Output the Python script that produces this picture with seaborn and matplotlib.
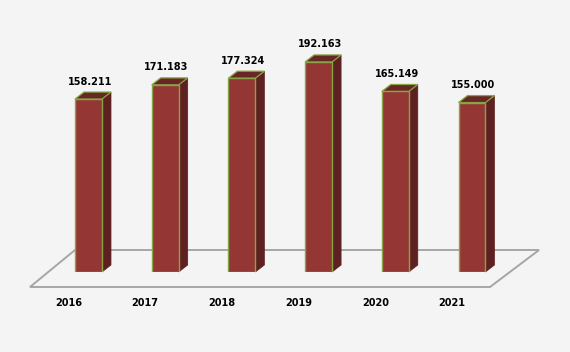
import numpy as np
import pandas as pd
import matplotlib
matplotlib.use("Agg")
import matplotlib.pyplot as plt
from matplotlib.patches import Polygon
from matplotlib.transforms import ScaledTranslation
import seaborn as sns

# Data
years = ["2016", "2017", "2018", "2019", "2020", "2021"]
values = [158.211, 171.183, 177.324, 192.163, 165.149, 155.000]
value_labels = ["158.211", "171.183", "177.324", "192.163", "165.149", "155.000"]

BG = "#f4f4f4"
FRONT = "#943634"
SIDE = "#5e2020"
TOP = "#682725"
EDGE = "#86a544"
FLOOR = "#a6a6a6"

sns.set_theme(style="white")
plt.rcParams['font.family'] = ['DejaVu Sans']

df = pd.DataFrame({"year": years, "value": values})

fig = plt.figure(figsize=(5.7, 3.52), dpi=100, facecolor=BG)
# axes placed so that one category = 76.7 px and 1 unit = 1.093 px
ax = fig.add_axes([50.15 / 570, 80 / 352, 460.2 / 570, 251.4 / 352])
ax.set_facecolor(BG)

sns.barplot(data=df, x="year", y="value", color=FRONT, width=0.352,
            saturation=1, edgecolor=EDGE, linewidth=1.0, ax=ax, zorder=4)
ax.set_xlim(-0.5, 5.5)
ax.set_ylim(0, 230)

# pixel -> data conversions
px_x = 6 / 460.2
px_y = 230 / 251.4
dx, dy = 9 * px_x, 7 * px_y

# floor parallelogram
floor = Polygon([(-0.763, -15 * px_y), (5.235, -15 * px_y),
                 (5.874, 22 * px_y), (-0.176, 22 * px_y)],
                closed=True, facecolor=BG, edgecolor=FLOOR, linewidth=1.4,
                clip_on=False, zorder=1)

# 3D faces for each bar
for p in list(ax.patches):
    x0 = p.get_x()
    w = p.get_width()
    h = p.get_height()
    x1 = x0 + w
    side = Polygon([(x1, 0), (x1 + dx, dy), (x1 + dx, h + dy), (x1, h)],
                   closed=True, facecolor=SIDE, edgecolor=SIDE, linewidth=0.5,
                   clip_on=False, zorder=3)
    top = Polygon([(x0, h), (x0 + dx, h + dy), (x1 + dx, h + dy), (x1, h)],
                  closed=True, facecolor=TOP, edgecolor=EDGE, linewidth=0.9,
                  clip_on=False, zorder=3)
    ax.add_patch(side)
    ax.add_patch(top)
ax.add_patch(floor)

# value labels
for i, (v, lab) in enumerate(zip(values, value_labels)):
    ax.annotate(lab, (i, v), xytext=(1, 9), textcoords="offset points",
                ha="center", va="bottom", fontsize=7, fontweight="bold",
                color="black", zorder=5)

ax.set_xlabel("")
ax.set_ylabel("")
ax.set_yticks([])
ax.tick_params(axis="x", length=0, pad=19, labelsize=7)
shift = ScaledTranslation(-0.2, 0, fig.dpi_scale_trans)
for lab in ax.get_xticklabels():
    lab.set_fontweight("bold")
    lab.set_color("black")
    lab.set_transform(lab.get_transform() + shift)
for s in ax.spines.values():
    s.set_visible(False)

fig.savefig("out.png", dpi=100, facecolor=BG)
